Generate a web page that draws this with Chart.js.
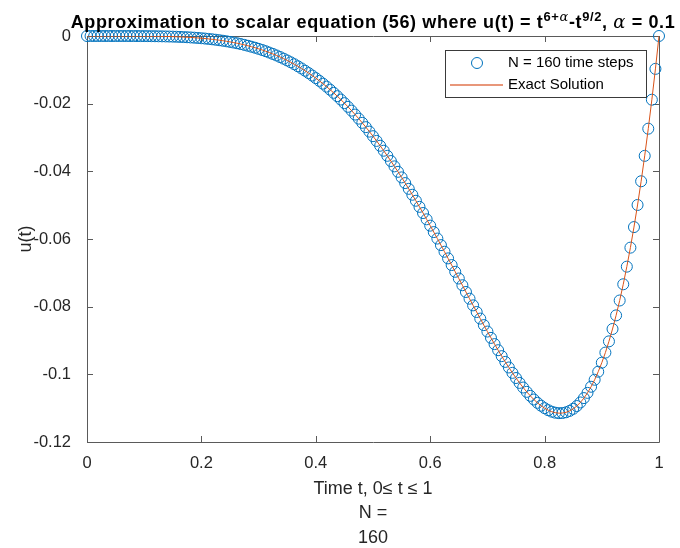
<!DOCTYPE html>
<html>
<head>
<meta charset="utf-8">
<script src="https://cdn.jsdelivr.net/npm/chart.js@4.4.1/dist/chart.umd.min.js"></script>
<style>
  html, body { margin: 0; padding: 0; background: #fff; overflow: hidden; }
  #wrap { position: relative; width: 680px; height: 548px; }
  #title {
    position: absolute; left: 0; top: 12px; width: 746px;
    text-align: center; white-space: nowrap;
    font: bold 18px "Liberation Sans", Arial, sans-serif; line-height: 20px;
    letter-spacing: 0.62px;
    color: #000;
  }
  #title .sup { position: relative; top: -0.55em; font-size: 0.72em; }
  #title .g { font-family: "DejaVu Serif", serif; font-weight: normal; font-style: italic; }
</style>
</head>
<body>
<div id="wrap">
  <canvas id="chart" width="680" height="548"></canvas>
  <div id="title">Approximation to scalar equation (56) where u(t) = t<span class="sup">6+<span class="g">α</span></span>-t<span class="sup">9/2</span>, <span class="g">α</span> = 0.1</div>
</div>
<script>
// time grid, N = 160 steps on [0, 1]
const tValues = [0, 0.00625, 0.0125, 0.01875, 0.025, 0.03125, 0.0375, 0.04375, 0.05, 0.05625,
  0.0625, 0.06875, 0.075, 0.08125, 0.0875, 0.09375, 0.1, 0.10625, 0.1125, 0.11875,
  0.125, 0.13125, 0.1375, 0.14375, 0.15, 0.15625, 0.1625, 0.16875, 0.175, 0.18125,
  0.1875, 0.19375, 0.2, 0.20625, 0.2125, 0.21875, 0.225, 0.23125, 0.2375, 0.24375,
  0.25, 0.25625, 0.2625, 0.26875, 0.275, 0.28125, 0.2875, 0.29375, 0.3, 0.30625,
  0.3125, 0.31875, 0.325, 0.33125, 0.3375, 0.34375, 0.35, 0.35625, 0.3625, 0.36875,
  0.375, 0.38125, 0.3875, 0.39375, 0.4, 0.40625, 0.4125, 0.41875, 0.425, 0.43125,
  0.4375, 0.44375, 0.45, 0.45625, 0.4625, 0.46875, 0.475, 0.48125, 0.4875, 0.49375,
  0.5, 0.50625, 0.5125, 0.51875, 0.525, 0.53125, 0.5375, 0.54375, 0.55, 0.55625,
  0.5625, 0.56875, 0.575, 0.58125, 0.5875, 0.59375, 0.6, 0.60625, 0.6125, 0.61875,
  0.625, 0.63125, 0.6375, 0.64375, 0.65, 0.65625, 0.6625, 0.66875, 0.675, 0.68125,
  0.6875, 0.69375, 0.7, 0.70625, 0.7125, 0.71875, 0.725, 0.73125, 0.7375, 0.74375,
  0.75, 0.75625, 0.7625, 0.76875, 0.775, 0.78125, 0.7875, 0.79375, 0.8, 0.80625,
  0.8125, 0.81875, 0.825, 0.83125, 0.8375, 0.84375, 0.85, 0.85625, 0.8625, 0.86875,
  0.875, 0.88125, 0.8875, 0.89375, 0.9, 0.90625, 0.9125, 0.91875, 0.925, 0.93125,
  0.9375, 0.94375, 0.95, 0.95625, 0.9625, 0.96875, 0.975, 0.98125, 0.9875, 0.99375, 1];

// u(t) at each step
const uValues = [0, 0, 0, 0, -0.0000001, -0.0000002, -0.0000004, -0.0000008, -0.0000014, -0.0000024,
  -0.0000038, -0.0000058, -0.0000086, -0.0000123, -0.0000171, -0.0000233, -0.0000308, -0.0000404, -0.0000521, -0.0000662,
  -0.0000832, -0.0001035, -0.0001274, -0.0001553, -0.0001866, -0.000224, -0.0002662, -0.0003143, -0.0003682, -0.0004297,
  -0.000498, -0.0005749, -0.0006611, -0.000756, -0.000861, -0.000977, -0.001104, -0.001243, -0.001395, -0.001561,
  -0.001741, -0.001936, -0.002146, -0.002374, -0.002619, -0.002882, -0.003165, -0.003467, -0.00379, -0.004135,
  -0.004502, -0.004893, -0.005307, -0.005747, -0.006212, -0.006704, -0.007223, -0.00777, -0.008346, -0.008952,
  -0.009589, -0.010256, -0.010956, -0.011688, -0.012454, -0.013253, -0.014086, -0.014955, -0.01586, -0.0168,
  -0.017777, -0.01879, -0.019841, -0.02093, -0.022056, -0.023221, -0.024423, -0.025664, -0.026943, -0.02826,
  -0.029616, -0.031009, -0.032439, -0.033908, -0.035413, -0.036954, -0.038531, -0.040143, -0.041789, -0.043468,
  -0.045179, -0.046922, -0.048695, -0.050496, -0.052324, -0.054178, -0.056055, -0.057955, -0.059874, -0.061811,
  -0.063763, -0.065729, -0.067705, -0.069689, -0.071678, -0.073668, -0.075657, -0.077641, -0.079617, -0.081579,
  -0.083527, -0.085453, -0.087356, -0.089228, -0.091066, -0.092866, -0.09462, -0.096326, -0.097975, -0.099564,
  -0.101085, -0.102531, -0.103898, -0.105178, -0.106361, -0.107442, -0.108416, -0.109268, -0.109999, -0.110593,
  -0.111042, -0.11134, -0.111475, -0.111435, -0.111222, -0.110811, -0.110196, -0.109369, -0.108312, -0.107022,
  -0.105478, -0.10367, -0.1016, -0.09923, -0.096559, -0.093575, -0.090255, -0.086597, -0.082575, -0.078175,
  -0.073381, -0.068177, -0.062554, -0.056476, -0.049944, -0.042935, -0.035426, -0.027395, -0.018831, -0.009717, 0];

const xTicks = [0, 0.2, 0.4, 0.6, 0.8, 1];
const xTickLabels = ['0', '0.2', '0.4', '0.6', '0.8', '1'];
const yTicks = [0, -0.02, -0.04, -0.06, -0.08, -0.1, -0.12];
const yTickLabels = ['0', '-0.02', '-0.04', '-0.06', '-0.08', '-0.1', '-0.12'];

const seriesNames = ['N = 160 time steps', 'Exact Solution'];
const xLabel = ['Time t, 0\u2264 t \u2264 1', 'N =', '160'];
const yLabel = 'u(t)';

const BLUE = '#0072BD';
const ORANGE = '#D95319';
const AXIS = '#262626';
const FONT = '"Liberation Sans", Arial, sans-serif';

const points = tValues.map((t, i) => ({ x: t, y: uValues[i] }));

// box around the axes with inward ticks on all four sides
const boxPlugin = {
  id: 'box',
  beforeDatasetsDraw(chart) {
    const { ctx, chartArea: a, scales } = chart;
    const len = 6;
    ctx.save();
    ctx.strokeStyle = '#5a5a5a';
    ctx.lineWidth = 1;
    ctx.beginPath();
    ctx.rect(Math.round(a.left) + 0.5, Math.round(a.top) + 0.5,
      Math.round(a.right - a.left), Math.round(a.bottom - a.top));
    for (const v of xTicks) {
      const px = Math.round(scales.x.getPixelForValue(v)) + 0.5;
      ctx.moveTo(px, a.bottom); ctx.lineTo(px, a.bottom - len);
      ctx.moveTo(px, a.top); ctx.lineTo(px, a.top + len);
    }
    for (const v of yTicks) {
      const py = Math.round(scales.y.getPixelForValue(v)) + 0.5;
      ctx.moveTo(a.left, py); ctx.lineTo(a.left + len, py);
      ctx.moveTo(a.right, py); ctx.lineTo(a.right - len, py);
    }
    ctx.stroke();
    ctx.restore();
  }
};

// MATLAB-like legend box in the upper right
const legendPlugin = {
  id: 'matLegend',
  afterDraw(chart) {
    const { ctx } = chart;
    const bx = 445.5, by = 50.5, bw = 201, bh = 47;
    ctx.save();
    ctx.fillStyle = '#fff';
    ctx.fillRect(bx, by, bw, bh);
    ctx.strokeStyle = '#3a3a3a';
    ctx.lineWidth = 1;
    ctx.strokeRect(bx, by, bw, bh);

    const markerDs = chart.data.datasets[1];
    const lineDs = chart.data.datasets[0];
    ctx.strokeStyle = markerDs.borderColor;
    ctx.beginPath();
    ctx.arc(477, 63, markerDs.pointRadius, 0, Math.PI * 2);
    ctx.stroke();

    ctx.strokeStyle = '#E8977A';
    ctx.lineWidth = 2;
    ctx.beginPath();
    ctx.moveTo(450, 85);
    ctx.lineTo(503, 85);
    ctx.stroke();

    ctx.fillStyle = '#000';
    ctx.font = '15px ' + FONT;
    ctx.textBaseline = 'middle';
    ctx.fillText(markerDs.label, 508, 63);
    ctx.fillText(lineDs.label, 508, 85);
    ctx.restore();
  }
};

new Chart(document.getElementById('chart'), {
  type: 'line',
  data: {
    datasets: [
      {
        label: seriesNames[1],
        data: points,
        borderColor: ORANGE,
        borderWidth: 1,
        pointRadius: 0,
        fill: false,
        tension: 0,
        order: 1
      },
      {
        label: seriesNames[0],
        data: points,
        showLine: false,
        borderColor: BLUE,
        backgroundColor: 'rgba(0,0,0,0)',
        pointBorderColor: BLUE,
        pointBackgroundColor: 'rgba(0,0,0,0)',
        pointRadius: 5.5,
        pointBorderWidth: 1,
        pointStyle: 'circle',
        clip: false,
        order: 2
      }
    ]
  },
  options: {
    responsive: false,
    animation: false,
    devicePixelRatio: 1,
    events: [],
    layout: { padding: { top: 36, right: 21, left: 0, bottom: 0 } },
    plugins: {
      legend: { display: false },
      tooltip: { enabled: false },
      title: { display: false }
    },
    scales: {
      x: {
        type: 'linear',
        min: 0,
        max: 1,
        afterFit(s) { s.height = 106; },
        afterBuildTicks(s) { s.ticks = xTicks.map(v => ({ value: v })); },
        grid: { display: false },
        border: { display: false },
        ticks: {
          padding: 4,
          color: AXIS,
          font: { family: FONT, size: 16.5 },
          maxRotation: 0,
          callback: (v, i) => xTickLabels[i]
        },
        title: {
          display: true,
          text: xLabel,
          color: AXIS,
          font: { family: FONT, size: 18, lineHeight: 1.36 },
          padding: { top: 0, bottom: -2 }
        }
      },
      y: {
        type: 'linear',
        min: -0.12,
        max: 0,
        afterFit(s) { s.width = 87; },
        afterBuildTicks(s) { s.ticks = yTicks.map(v => ({ value: v })); },
        grid: { display: false },
        border: { display: false },
        ticks: {
          padding: 8,
          color: AXIS,
          font: { family: FONT, size: 16.5 },
          callback: (v, i) => yTickLabels[i]
        },
        title: {
          display: true,
          text: yLabel,
          color: AXIS,
          font: { family: FONT, size: 18 },
          padding: { top: 15, bottom: 0 }
        }
      }
    }
  },
  plugins: [boxPlugin, legendPlugin]
});
</script>
</body>
</html>
